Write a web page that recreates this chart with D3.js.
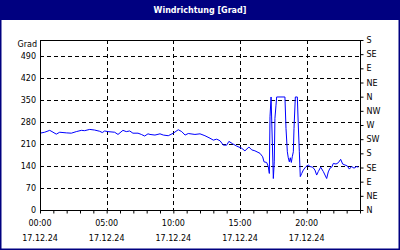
<!DOCTYPE html>
<html>
<head>
<meta charset="utf-8">
<script src="https://cdn.jsdelivr.net/npm/d3@7"></script>
<style>
  body { margin: 0; background: #fff; }
  text { font-family: "DejaVu Sans", sans-serif; font-size: 8px; }
</style>
</head>
<body>
<script>
// Windrichtung 17.12.24, Stunden seit 00:00 / Grad
const hours = [0, 0.35, 0.73, 0.9, 1.22, 1.48, 1.97, 2.35, 2.72, 3.1, 3.35, 3.73, 4.1, 4.48, 4.67, 4.85,
  5.1, 5.6, 5.85, 6.22, 6.47, 6.73, 6.97, 7.35, 7.6, 7.85, 8.1, 8.25, 8.62, 9.0, 9.25, 9.62,
  10.0, 10.37, 10.63, 10.88, 11.12, 11.62, 12.0, 12.37, 12.75, 13.0, 13.25, 13.5, 13.75, 14.0,
  14.17, 14.42, 14.75, 15.13, 15.37, 15.67, 15.88, 16.12, 16.5, 16.7, 16.8, 17.0, 17.12, 17.2,
  17.25, 17.33, 17.5, 17.57, 17.62, 17.7, 17.75, 18.37, 18.45, 18.55, 18.62, 18.7, 18.77, 18.85,
  18.92, 19.0, 19.05, 19.15, 19.3, 19.37, 19.45, 19.52, 19.63, 19.75, 19.95, 20.12, 20.25, 20.45,
  20.62, 20.75, 20.87, 21.05, 21.25, 21.5, 21.62, 21.75, 21.88, 22.0, 22.2, 22.37, 22.55, 22.7,
  22.87, 23.05, 23.2, 23.37, 23.55, 23.75, 23.87];
const grad = [244, 247, 253, 249, 241, 247, 245, 244, 249, 253, 252, 256, 254, 250, 246, 251,
  249, 247, 240, 253, 249, 251, 244, 244, 240, 235, 242, 240, 238, 242, 238, 236,
  244, 255, 249, 238, 243, 240, 242, 236, 228, 222, 225, 220, 206, 206,
  218, 211, 203, 196, 188, 200, 191, 188, 180, 169, 153, 151, 138, 116,
  296, 359, 100, 153, 291, 333, 359, 359, 259, 185, 166, 153, 166, 151,
  169, 185, 259, 359, 359, 270, 185, 106, 116, 127, 138, 143, 138, 136,
  127, 111, 122, 136, 122, 100, 121, 133, 136, 148, 146, 150, 161, 146,
  143, 140, 130, 138, 133, 138, 136];

const leftTicks = [0, 70, 140, 210, 280, 350, 420, 490];
const compassTicks = [0, 45, 90, 135, 180, 225, 270, 315, 360, 405, 450, 495, 540];
const compassLabels = ["N", "NE", "E", "SE", "S", "SW", "W", "NW", "N", "NE", "E", "SE", "S"];
const timeTicks = [0, 5, 10, 15, 20];
const dateLabel = "17.12.24";

const W = 400, H = 250;
const x0 = 40, x1 = 360, y0 = 40, y1 = 210;

const svg = d3.select("body").append("svg")
  .attr("width", W)
  .attr("height", H);

svg.append("rect").attr("width", W).attr("height", H).attr("fill", "#fff");

// title bar
svg.append("rect").attr("x", 0).attr("y", 0).attr("width", W).attr("height", 20).attr("fill", "#000080");
svg.append("text")
  .attr("x", W / 2).attr("y", 13)
  .attr("text-anchor", "middle")
  .attr("fill", "#fff")
  .attr("font-weight", "bold")
  .attr("font-size", "9px")
  .text("Windrichtung [Grad]");

// frame
svg.append("rect")
  .attr("x", 0.5).attr("y", 0.5).attr("width", W - 1).attr("height", H - 1)
  .attr("fill", "none").attr("stroke", "#000080").attr("stroke-width", 2);

const x = d3.scaleLinear().domain([0, 24]).range([x0, x1]);
const y = d3.scaleLinear().domain([0, 540]).range([y1, y0]);

// grid
const grid = svg.append("g").attr("stroke", "#000").attr("stroke-dasharray", "4,3").attr("shape-rendering", "crispEdges");
grid.selectAll(".hg")
  .data(leftTicks.filter(d => d > 0))
  .enter().append("line")
  .attr("x1", x0).attr("x2", x1)
  .attr("y1", d => Math.round(y(d)) + 0.5).attr("y2", d => Math.round(y(d)) + 0.5);
grid.selectAll(".vg")
  .data(timeTicks.filter(d => d > 0))
  .enter().append("line")
  .attr("y1", y0).attr("y2", y1)
  .attr("x1", d => Math.round(x(d)) + 0.5).attr("x2", d => Math.round(x(d)) + 0.5);

// data line
const line = d3.line()
  .x((d, i) => x(hours[i]))
  .y(d => y(d));
svg.append("path")
  .datum(grad)
  .attr("d", line)
  .attr("fill", "none")
  .attr("stroke", "#0000ff")
  .attr("stroke-width", 1);

// plot border
svg.append("rect")
  .attr("x", x0 + 0.5).attr("y", y0 + 0.5).attr("width", x1 - x0).attr("height", y1 - y0)
  .attr("fill", "none").attr("stroke", "#000").attr("shape-rendering", "crispEdges");

// left axis
const leftAxis = svg.append("g")
  .attr("transform", `translate(${x0},0)`)
  .call(d3.axisLeft(y).tickValues(leftTicks).tickSize(0).tickPadding(4));
leftAxis.select(".domain").remove();
leftAxis.selectAll("text").attr("font-size", "8px").attr("fill", "#000").attr("font-family", "DejaVu Sans");
svg.append("text")
  .attr("x", 37).attr("y", 47)
  .attr("text-anchor", "end")
  .text("Grad");

// right axis (compass)
const rightAxis = svg.append("g")
  .attr("transform", `translate(${x1 + 0.5},0)`)
  .call(d3.axisRight(y).tickValues(compassTicks).tickSize(3).tickPadding(3)
    .tickFormat((d, i) => compassLabels[i]));
rightAxis.select(".domain").remove();
rightAxis.selectAll("text").attr("font-size", "8px").attr("fill", "#000").attr("font-family", "DejaVu Sans");

// bottom axis
const bottomAxis = svg.append("g")
  .attr("transform", `translate(0,${y1 + 0.5})`)
  .call(d3.axisBottom(x).ticks(24).tickSize(3).tickFormat(""));
bottomAxis.select(".domain").remove();

const labels = svg.append("g");
labels.selectAll(".t")
  .data(timeTicks)
  .enter().append("text")
  .attr("x", d => x(d))
  .attr("y", 226)
  .attr("text-anchor", "middle")
  .text(d => d3.format("02")(d) + ":00");
labels.selectAll(".d")
  .data(timeTicks)
  .enter().append("text")
  .attr("x", d => x(d))
  .attr("y", 241)
  .attr("text-anchor", "middle")
  .text(dateLabel);
</script>
</body>
</html>
